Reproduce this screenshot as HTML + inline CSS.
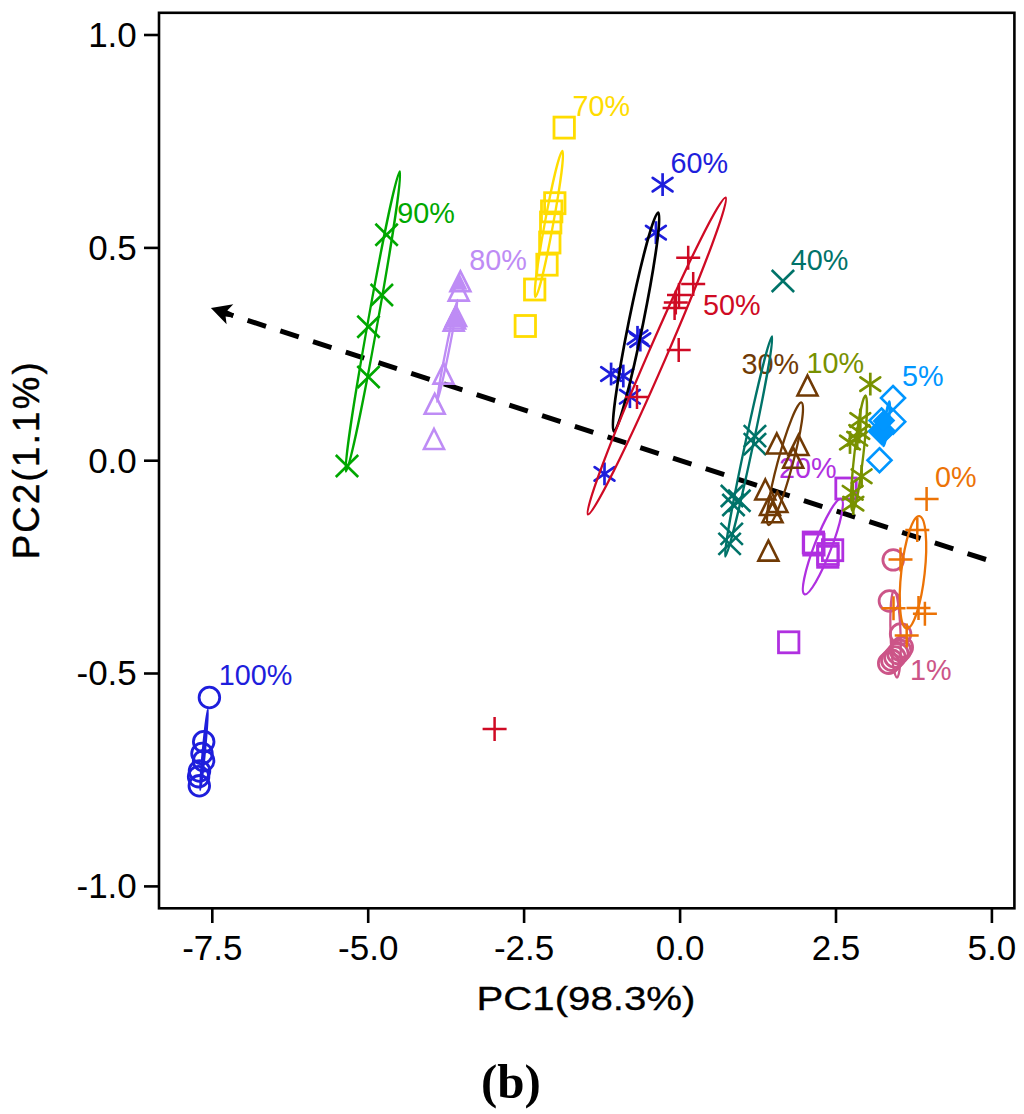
<!DOCTYPE html>
<html><head><meta charset="utf-8"><style>
html,body{margin:0;padding:0;background:#fff;}
body{width:1024px;height:1114px;overflow:hidden;}
svg{display:block;}
text{font-family:"Liberation Sans",sans-serif;}
</style></head><body>
<svg width="1024" height="1114" viewBox="0 0 1024 1114">
<rect x="0" y="0" width="1024" height="1114" fill="#fff"/>
<path d="M986,559.5L232,315.3" stroke="#000" stroke-width="5" stroke-dasharray="19.4 15" fill="none"/>
<path d="M210.9,308L233.3,304.3L227.3,310.4L233.9,313.4L232.5,317.6L225.6,316.4L226.6,324.2Z" fill="#000"/>
<text x="218.7" y="685.4" font-size="28.8" fill="#1E1EDC">100%</text>
<text x="397.2" y="222.8" font-size="28.8" fill="#00A800">90%</text>
<text x="469.2" y="269.5" font-size="28.8" fill="#BE8CF5">80%</text>
<text x="572.5" y="115.8" font-size="28.8" fill="#FFDC00">70%</text>
<text x="670.4000000000001" y="172.70000000000002" font-size="28.8" fill="#1E1EDC">60%</text>
<text x="703.0" y="315.0" font-size="28.8" fill="#CF0A24">50%</text>
<text x="790.8000000000001" y="269.7" font-size="28.8" fill="#007369">40%</text>
<text x="741.5" y="374.3" font-size="28.8" fill="#703A05">30%</text>
<text x="778.9000000000001" y="477.6" font-size="28.8" fill="#B030E0">20%</text>
<text x="806.6" y="372.6" font-size="28.8" fill="#789100">10%</text>
<text x="902.0" y="386.40000000000003" font-size="28.8" fill="#0096FF">5%</text>
<text x="910.1" y="680.3" font-size="28.8" fill="#CC5588">1%</text>
<text x="935.1" y="487.3" font-size="28.8" fill="#EC7306">0%</text>
<ellipse cx="204.00" cy="749.75" rx="40.43" ry="1.0" transform="rotate(95.39 204.00 749.75)" fill="none" stroke="#1E1EDC" stroke-width="2.4"/>
<circle cx="209.4" cy="697.5" r="10.3" fill="none" stroke="#1E1EDC" stroke-width="2.8"/>
<circle cx="203.7" cy="741.7" r="10.3" fill="none" stroke="#1E1EDC" stroke-width="2.8"/>
<circle cx="202" cy="753.5" r="10.3" fill="none" stroke="#1E1EDC" stroke-width="2.8"/>
<circle cx="203.6" cy="760.8" r="10.3" fill="none" stroke="#1E1EDC" stroke-width="2.8"/>
<circle cx="199.5" cy="771" r="10.3" fill="none" stroke="#1E1EDC" stroke-width="2.8"/>
<circle cx="198.6" cy="776.7" r="10.3" fill="none" stroke="#1E1EDC" stroke-width="2.8"/>
<circle cx="199.3" cy="785.8" r="10.3" fill="none" stroke="#1E1EDC" stroke-width="2.8"/>
<ellipse cx="372.90" cy="321.50" rx="152.39" ry="4.8" transform="rotate(100.17 372.90 321.50)" fill="none" stroke="#00A800" stroke-width="2.3"/>
<path d="M375.40,223.80L397.80,245.80M375.40,245.80L397.80,223.80" fill="none" stroke="#00A800" stroke-width="2.6"/>
<path d="M370.60,284.00L393.00,306.00M370.60,306.00L393.00,284.00" fill="none" stroke="#00A800" stroke-width="2.6"/>
<path d="M357.30,315.70L379.70,337.70M357.30,337.70L379.70,315.70" fill="none" stroke="#00A800" stroke-width="2.6"/>
<path d="M357.30,366.00L379.70,388.00M357.30,388.00L379.70,366.00" fill="none" stroke="#00A800" stroke-width="2.6"/>
<path d="M335.80,455.00L358.20,477.00M335.80,477.00L358.20,455.00" fill="none" stroke="#00A800" stroke-width="2.6"/>
<ellipse cx="447.25" cy="351.00" rx="52.02" ry="1.6" transform="rotate(101.36 447.25 351.00)" fill="none" stroke="#BE8CF5" stroke-width="2.3"/>
<path d="M460.40,271.30L470.40,291.30L450.40,291.30Z" fill="none" stroke="#BE8CF5" stroke-width="2.6"/>
<path d="M458.70,280.60L468.70,300.60L448.70,300.60Z" fill="none" stroke="#BE8CF5" stroke-width="2.6"/>
<path d="M456.00,306.00L466.00,326.00L446.00,326.00Z" fill="none" stroke="#BE8CF5" stroke-width="2.6"/>
<path d="M455.00,308.50L465.00,328.50L445.00,328.50Z" fill="none" stroke="#BE8CF5" stroke-width="2.6"/>
<path d="M453.70,310.80L463.70,330.80L443.70,330.80Z" fill="none" stroke="#BE8CF5" stroke-width="2.6"/>
<path d="M443.50,363.60L453.50,383.60L433.50,383.60Z" fill="none" stroke="#BE8CF5" stroke-width="2.6"/>
<path d="M434.70,393.80L444.70,413.80L424.70,413.80Z" fill="none" stroke="#BE8CF5" stroke-width="2.6"/>
<path d="M434.00,429.00L444.00,449.00L424.00,449.00Z" fill="none" stroke="#BE8CF5" stroke-width="2.6"/>
<ellipse cx="548.90" cy="224.00" rx="74.24" ry="4.2" transform="rotate(100.48 548.90 224.00)" fill="none" stroke="#FFDC00" stroke-width="2.3"/>
<rect x="554.00" y="117.10" width="20.4" height="21" fill="none" stroke="#FFDC00" stroke-width="2.8"/>
<rect x="544.60" y="192.70" width="20.4" height="21" fill="none" stroke="#FFDC00" stroke-width="2.8"/>
<rect x="541.50" y="200.90" width="20.4" height="21" fill="none" stroke="#FFDC00" stroke-width="2.8"/>
<rect x="540.50" y="212.00" width="20.4" height="21" fill="none" stroke="#FFDC00" stroke-width="2.8"/>
<rect x="539.60" y="232.00" width="20.4" height="21" fill="none" stroke="#FFDC00" stroke-width="2.8"/>
<rect x="536.80" y="254.20" width="20.4" height="21" fill="none" stroke="#FFDC00" stroke-width="2.8"/>
<rect x="524.50" y="279.00" width="20.4" height="21" fill="none" stroke="#FFDC00" stroke-width="2.8"/>
<rect x="515.10" y="315.50" width="20.4" height="21" fill="none" stroke="#FFDC00" stroke-width="2.8"/>
<path d="M662.60,173.20L662.60,196.00" fill="none" stroke="#1E1EDC" stroke-width="2.7"/><path d="M652.70,177.80L672.50,191.40M652.70,191.40L672.50,177.80" fill="none" stroke="#1E1EDC" stroke-width="2.7" stroke-linecap="round"/>
<path d="M655.90,221.20L655.90,244.00" fill="none" stroke="#1E1EDC" stroke-width="2.7"/><path d="M646.00,225.80L665.80,239.40M646.00,239.40L665.80,225.80" fill="none" stroke="#1E1EDC" stroke-width="2.7" stroke-linecap="round"/>
<path d="M637.50,325.90L637.50,348.70" fill="none" stroke="#1E1EDC" stroke-width="2.7"/><path d="M627.60,330.50L647.40,344.10M627.60,344.10L647.40,330.50" fill="none" stroke="#1E1EDC" stroke-width="2.7" stroke-linecap="round"/>
<path d="M640.30,328.70L640.30,351.50" fill="none" stroke="#1E1EDC" stroke-width="2.7"/><path d="M630.40,333.30L650.20,346.90M630.40,346.90L650.20,333.30" fill="none" stroke="#1E1EDC" stroke-width="2.7" stroke-linecap="round"/>
<path d="M611.10,362.60L611.10,385.40" fill="none" stroke="#1E1EDC" stroke-width="2.7"/><path d="M601.20,367.20L621.00,380.80M601.20,380.80L621.00,367.20" fill="none" stroke="#1E1EDC" stroke-width="2.7" stroke-linecap="round"/>
<path d="M623.30,364.60L623.30,387.40" fill="none" stroke="#1E1EDC" stroke-width="2.7"/><path d="M613.40,369.20L633.20,382.80M613.40,382.80L633.20,369.20" fill="none" stroke="#1E1EDC" stroke-width="2.7" stroke-linecap="round"/>
<path d="M629.90,385.30L629.90,408.10" fill="none" stroke="#1E1EDC" stroke-width="2.7"/><path d="M620.00,389.90L639.80,403.50M620.00,403.50L639.80,389.90" fill="none" stroke="#1E1EDC" stroke-width="2.7" stroke-linecap="round"/>
<path d="M604.50,462.50L604.50,485.30" fill="none" stroke="#1E1EDC" stroke-width="2.7"/><path d="M594.60,467.10L614.40,480.70M594.60,480.70L614.40,467.10" fill="none" stroke="#1E1EDC" stroke-width="2.7" stroke-linecap="round"/>
<ellipse cx="636.05" cy="322.00" rx="111.72" ry="7.2" transform="rotate(101.44 636.05 322.00)" fill="none" stroke="#000" stroke-width="2.7"/>
<ellipse cx="656.80" cy="356.00" rx="172.70" ry="9" transform="rotate(113.48 656.80 356.00)" fill="none" stroke="#CF0A24" stroke-width="2.3"/>
<path d="M676.20,257.80L700.20,257.80M688.20,245.80L688.20,269.80" fill="none" stroke="#CF0A24" stroke-width="2.5"/>
<path d="M681.20,284.00L705.20,284.00M693.20,272.00L693.20,296.00" fill="none" stroke="#CF0A24" stroke-width="2.5"/>
<path d="M667.00,295.00L691.00,295.00M679.00,283.00L679.00,307.00" fill="none" stroke="#CF0A24" stroke-width="2.5"/>
<path d="M663.80,302.50L687.80,302.50M675.80,290.50L675.80,314.50" fill="none" stroke="#CF0A24" stroke-width="2.5"/>
<path d="M662.60,308.00L686.60,308.00M674.60,296.00L674.60,320.00" fill="none" stroke="#CF0A24" stroke-width="2.5"/>
<path d="M666.70,349.90L690.70,349.90M678.70,337.90L678.70,361.90" fill="none" stroke="#CF0A24" stroke-width="2.5"/>
<path d="M625.00,397.00L649.00,397.00M637.00,385.00L637.00,409.00" fill="none" stroke="#CF0A24" stroke-width="2.5"/>
<path d="M482.60,729.10L506.60,729.10M494.60,717.10L494.60,741.10" fill="none" stroke="#CF0A24" stroke-width="2.5"/>
<ellipse cx="748.65" cy="446.50" rx="112.45" ry="4" transform="rotate(101.98 748.65 446.50)" fill="none" stroke="#007369" stroke-width="2.3"/>
<path d="M771.70,270.00L794.10,292.00M771.70,292.00L794.10,270.00" fill="none" stroke="#007369" stroke-width="2.6"/>
<path d="M743.70,425.10L766.10,447.10M743.70,447.10L766.10,425.10" fill="none" stroke="#007369" stroke-width="2.6"/>
<path d="M743.70,433.10L766.10,455.10M743.70,455.10L766.10,433.10" fill="none" stroke="#007369" stroke-width="2.6"/>
<path d="M720.80,485.00L743.20,507.00M720.80,507.00L743.20,485.00" fill="none" stroke="#007369" stroke-width="2.6"/>
<path d="M722.30,494.00L744.70,516.00M722.30,516.00L744.70,494.00" fill="none" stroke="#007369" stroke-width="2.6"/>
<path d="M728.10,489.80L750.50,511.80M728.10,511.80L750.50,489.80" fill="none" stroke="#007369" stroke-width="2.6"/>
<path d="M720.50,522.90L742.90,544.90M720.50,544.90L742.90,522.90" fill="none" stroke="#007369" stroke-width="2.6"/>
<path d="M718.40,532.90L740.80,554.90M718.40,554.90L740.80,532.90" fill="none" stroke="#007369" stroke-width="2.6"/>
<ellipse cx="785.00" cy="463.75" rx="63.43" ry="7.5" transform="rotate(105.08 785.00 463.75)" fill="none" stroke="#703A05" stroke-width="2.3"/>
<path d="M807.50,375.50L817.50,395.50L797.50,395.50Z" fill="none" stroke="#703A05" stroke-width="2.6"/>
<path d="M776.80,433.50L786.80,453.50L766.80,453.50Z" fill="none" stroke="#703A05" stroke-width="2.6"/>
<path d="M798.50,435.00L808.50,455.00L788.50,455.00Z" fill="none" stroke="#703A05" stroke-width="2.6"/>
<path d="M793.20,447.70L803.20,467.70L783.20,467.70Z" fill="none" stroke="#703A05" stroke-width="2.6"/>
<path d="M765.30,479.50L775.30,499.50L755.30,499.50Z" fill="none" stroke="#703A05" stroke-width="2.6"/>
<path d="M777.40,492.00L787.40,512.00L767.40,512.00Z" fill="none" stroke="#703A05" stroke-width="2.6"/>
<path d="M772.50,502.30L782.50,522.30L762.50,522.30Z" fill="none" stroke="#703A05" stroke-width="2.6"/>
<path d="M770.00,495.00L780.00,515.00L760.00,515.00Z" fill="none" stroke="#703A05" stroke-width="2.6"/>
<path d="M768.40,540.60L778.40,560.60L758.40,560.60Z" fill="none" stroke="#703A05" stroke-width="2.6"/>
<ellipse cx="822.85" cy="546.65" rx="51.06" ry="8.5" transform="rotate(111.06 822.85 546.65)" fill="none" stroke="#B030E0" stroke-width="2.3"/>
<rect x="835.80" y="478.00" width="20.4" height="21" fill="none" stroke="#B030E0" stroke-width="2.8"/>
<rect x="803.20" y="532.00" width="20.4" height="21" fill="none" stroke="#B030E0" stroke-width="2.8"/>
<rect x="803.70" y="534.10" width="20.4" height="21" fill="none" stroke="#B030E0" stroke-width="2.8"/>
<rect x="817.60" y="546.30" width="20.4" height="21" fill="none" stroke="#B030E0" stroke-width="2.8"/>
<rect x="817.80" y="543.50" width="20.4" height="21" fill="none" stroke="#B030E0" stroke-width="2.8"/>
<rect x="822.40" y="539.70" width="20.4" height="21" fill="none" stroke="#B030E0" stroke-width="2.8"/>
<rect x="778.50" y="631.80" width="20.4" height="21" fill="none" stroke="#B030E0" stroke-width="2.8"/>
<ellipse cx="859.00" cy="453.25" rx="58.11" ry="4.5" transform="rotate(96.42 859.00 453.25)" fill="none" stroke="#789100" stroke-width="2.3"/>
<path d="M870.30,372.70L870.30,395.50" fill="none" stroke="#789100" stroke-width="2.7"/><path d="M860.40,377.30L880.20,390.90M860.40,390.90L880.20,377.30" fill="none" stroke="#789100" stroke-width="2.7" stroke-linecap="round"/>
<path d="M860.30,408.60L860.30,431.40" fill="none" stroke="#789100" stroke-width="2.7"/><path d="M850.40,413.20L870.20,426.80M850.40,426.80L870.20,413.20" fill="none" stroke="#789100" stroke-width="2.7" stroke-linecap="round"/>
<path d="M859.30,420.60L859.30,443.40" fill="none" stroke="#789100" stroke-width="2.7"/><path d="M849.40,425.20L869.20,438.80M849.40,438.80L869.20,425.20" fill="none" stroke="#789100" stroke-width="2.7" stroke-linecap="round"/>
<path d="M857.20,427.30L857.20,450.10" fill="none" stroke="#789100" stroke-width="2.7"/><path d="M847.30,431.90L867.10,445.50M847.30,445.50L867.10,431.90" fill="none" stroke="#789100" stroke-width="2.7" stroke-linecap="round"/>
<path d="M850.00,431.10L850.00,453.90" fill="none" stroke="#789100" stroke-width="2.7"/><path d="M840.10,435.70L859.90,449.30M840.10,449.30L859.90,435.70" fill="none" stroke="#789100" stroke-width="2.7" stroke-linecap="round"/>
<path d="M861.60,464.90L861.60,487.70" fill="none" stroke="#789100" stroke-width="2.7"/><path d="M851.70,469.50L871.50,483.10M851.70,483.10L871.50,469.50" fill="none" stroke="#789100" stroke-width="2.7" stroke-linecap="round"/>
<path d="M852.70,481.40L852.70,504.20" fill="none" stroke="#789100" stroke-width="2.7"/><path d="M842.80,486.00L862.60,499.60M842.80,499.60L862.60,486.00" fill="none" stroke="#789100" stroke-width="2.7" stroke-linecap="round"/>
<path d="M853.30,492.20L853.30,515.00" fill="none" stroke="#789100" stroke-width="2.7"/><path d="M843.40,496.80L863.20,510.40M843.40,510.40L863.20,496.80" fill="none" stroke="#789100" stroke-width="2.7" stroke-linecap="round"/>
<ellipse cx="886.45" cy="423.75" rx="22.44" ry="1.8" transform="rotate(97.55 886.45 423.75)" fill="none" stroke="#0096FF" stroke-width="2.6"/>
<path d="M893.00,386.00L905.00,398.00L893.00,410.00L881.00,398.00Z" fill="none" stroke="#0096FF" stroke-width="2.6"/>
<path d="M893.20,409.70L905.20,421.70L893.20,433.70L881.20,421.70Z" fill="none" stroke="#0096FF" stroke-width="2.6"/>
<path d="M881.50,408.50L893.50,420.50L881.50,432.50L869.50,420.50Z" fill="none" stroke="#0096FF" stroke-width="2.6"/>
<path d="M881.80,419.20L893.80,431.20L881.80,443.20L869.80,431.20Z" fill="none" stroke="#0096FF" stroke-width="2.6"/>
<path d="M879.50,448.25L891.50,460.25L879.50,472.25L867.50,460.25Z" fill="none" stroke="#0096FF" stroke-width="2.6"/>
<ellipse cx="895.55" cy="633.90" rx="43.62" ry="5" transform="rotate(88.10 895.55 633.90)" fill="none" stroke="#CC5588" stroke-width="2.3"/>
<circle cx="893.2" cy="559.9" r="10.3" fill="none" stroke="#CC5588" stroke-width="2.8"/>
<circle cx="889.4" cy="601" r="10.3" fill="none" stroke="#CC5588" stroke-width="2.8"/>
<circle cx="900.6" cy="634" r="10.3" fill="none" stroke="#CC5588" stroke-width="2.8"/>
<circle cx="888.7" cy="663.2" r="10.3" fill="none" stroke="#CC5588" stroke-width="2.8"/>
<circle cx="891.8" cy="660.2" r="10.3" fill="none" stroke="#CC5588" stroke-width="2.8"/>
<circle cx="894.8" cy="657" r="10.3" fill="none" stroke="#CC5588" stroke-width="2.8"/>
<circle cx="897.8" cy="653.5" r="10.3" fill="none" stroke="#CC5588" stroke-width="2.8"/>
<circle cx="900.5" cy="650.5" r="10.3" fill="none" stroke="#CC5588" stroke-width="2.8"/>
<circle cx="902.3" cy="647.3" r="10.3" fill="none" stroke="#CC5588" stroke-width="2.8"/>
<ellipse cx="913.00" cy="572.25" rx="56.50" ry="11.7" transform="rotate(96.40 913.00 572.25)" fill="none" stroke="#EC7306" stroke-width="2.3"/>
<path d="M914.60,499.10L938.60,499.10M926.60,487.10L926.60,511.10" fill="none" stroke="#EC7306" stroke-width="2.5"/>
<path d="M905.30,530.00L929.30,530.00M917.30,518.00L917.30,542.00" fill="none" stroke="#EC7306" stroke-width="2.5"/>
<path d="M888.50,559.50L912.50,559.50M900.50,547.50L900.50,571.50" fill="none" stroke="#EC7306" stroke-width="2.5"/>
<path d="M881.50,608.30L905.50,608.30M893.50,596.30L893.50,620.30" fill="none" stroke="#EC7306" stroke-width="2.5"/>
<path d="M906.50,608.00L930.50,608.00M918.50,596.00L918.50,620.00" fill="none" stroke="#EC7306" stroke-width="2.5"/>
<path d="M912.90,613.70L936.90,613.70M924.90,601.70L924.90,625.70" fill="none" stroke="#EC7306" stroke-width="2.5"/>
<path d="M894.70,635.40L918.70,635.40M906.70,623.40L906.70,647.40" fill="none" stroke="#EC7306" stroke-width="2.5"/>
<path d="M881.8,418.5L894.5,431.2L881.8,443.9L869.1,431.2Z" fill="#0096FF" stroke="#0096FF" stroke-width="2.6"/>
<path d="M883,410.5L893.5,421L883,431.5L872.5,421Z" fill="#0096FF"/>
<path d="M459.6,273.5L467.4,289.8L451.5,289.8Z" fill="#BE8CF5"/>
<path d="M455.6,308.5L462.5,324.5L446,327Z" fill="#BE8CF5"/>
<rect x="159" y="12.8" width="855.4" height="895.5" fill="none" stroke="#000" stroke-width="2.6"/>
<g stroke="#000" stroke-width="2.6">
<line x1="144" y1="35" x2="159" y2="35"/>
<line x1="144" y1="247.9" x2="159" y2="247.9"/>
<line x1="144" y1="460.7" x2="159" y2="460.7"/>
<line x1="144" y1="673.5" x2="159" y2="673.5"/>
<line x1="144" y1="886.4" x2="159" y2="886.4"/>
<line x1="212.3" y1="908" x2="212.3" y2="923"/>
<line x1="368.2" y1="908" x2="368.2" y2="923"/>
<line x1="524.1" y1="908" x2="524.1" y2="923"/>
<line x1="680.1" y1="908" x2="680.1" y2="923"/>
<line x1="836" y1="908" x2="836" y2="923"/>
<line x1="991.9" y1="908" x2="991.9" y2="923"/>
</g>
<g font-size="35" fill="#000" text-anchor="end">
<text x="136.8" y="47">1.0</text>
<text x="136.8" y="259.8">0.5</text>
<text x="136.8" y="472.6">0.0</text>
<text x="136.8" y="685.4">-0.5</text>
<text x="136.8" y="898.3">-1.0</text>
</g>
<g font-size="35" fill="#000" text-anchor="middle">
<text x="212.3" y="960.3">-7.5</text>
<text x="368.2" y="960.3">-5.0</text>
<text x="524.1" y="960.3">-2.5</text>
<text x="680.1" y="960.3">0.0</text>
<text x="836" y="960.3">2.5</text>
<text x="991.9" y="960.3">5.0</text>
</g>
<text transform="translate(586,1009.5) scale(1.2,1)" font-size="33.5" text-anchor="middle" stroke="#000" stroke-width="0.3">PC1(98.3%)</text>
<text transform="translate(39.3,459.7) rotate(-90)" font-size="36.5" text-anchor="middle" stroke="#000" stroke-width="0.45" letter-spacing="2.3">PC2(1.1%)</text>
<text x="511" y="1097.5" font-size="49" font-weight="bold" text-anchor="middle" style="font-family:'Liberation Serif',serif">(b)</text>
</svg>
</body></html>
